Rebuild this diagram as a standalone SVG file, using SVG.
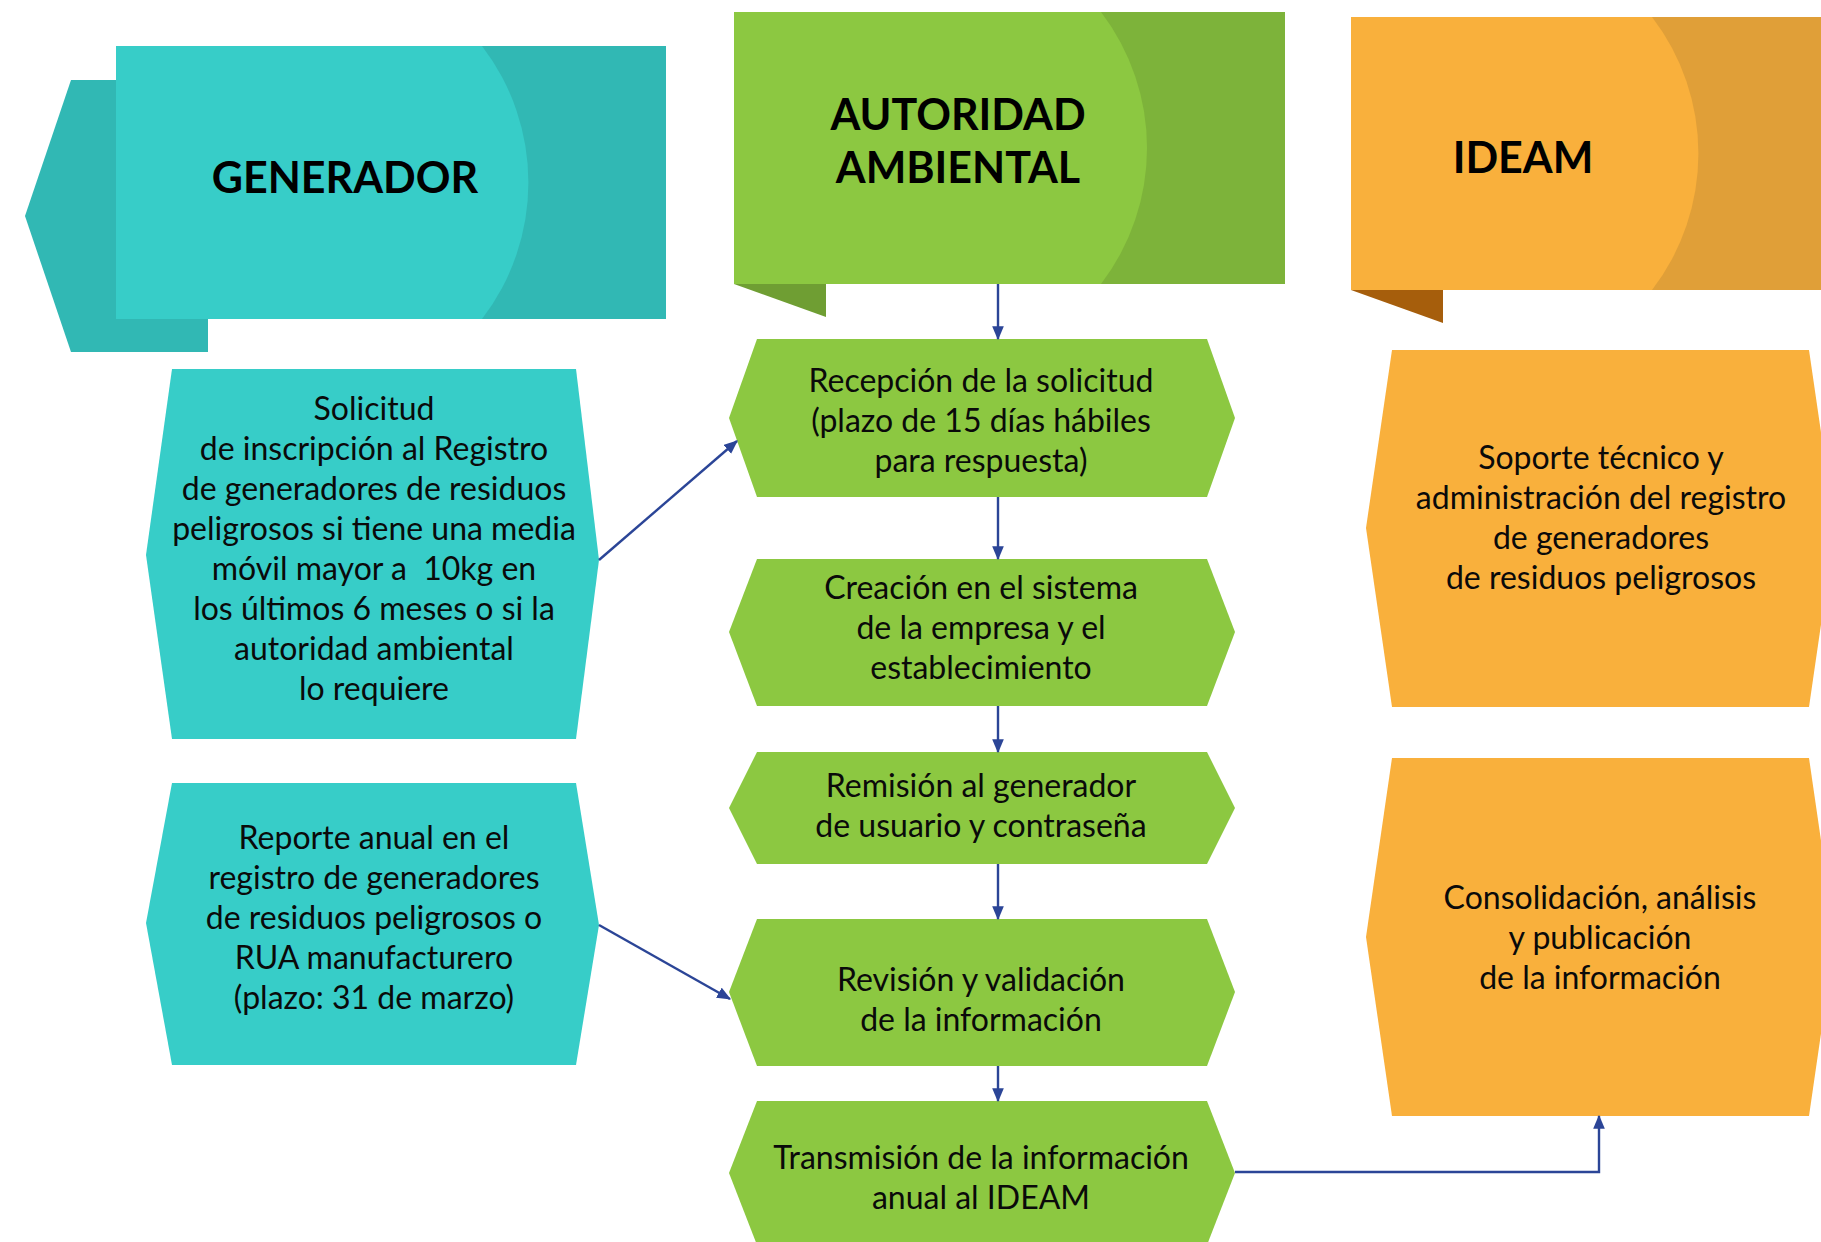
<svg xmlns="http://www.w3.org/2000/svg" width="1821" height="1242" viewBox="0 0 1821 1242">
<defs>
<style>
.hdr{font-family:Lato,"Liberation Sans",sans-serif;font-weight:bold;font-size:43px;fill:#000;text-anchor:middle}
.t{font-family:Lato,"Liberation Sans",sans-serif;font-size:32px;fill:#0a0a0a;text-anchor:middle;white-space:pre}
.tealL{fill:#37CDC8}
.tealD{fill:#31B8B4}
.greenL{fill:#8CC841}
.greenD{fill:#7DB33A}
.greenF{fill:#6F9E33}
.orL{fill:#F9B03C}
.orD{fill:#E09F38}
.orF{fill:#A65E0C}
.conn{stroke:#2B4597;stroke-width:2.4;fill:none}
</style>
<marker id="ah" viewBox="0 0 12 10" refX="11" refY="5" markerWidth="14" markerHeight="12" markerUnits="userSpaceOnUse" orient="auto">
<path d="M0,0 L12,5 L0,10 Z" fill="#2B4597"/>
</marker>
</defs>
<rect width="1821" height="1242" fill="#fff"/>

<g id="hdr-generador">
<polygon class="tealD" points="25,216 71,80 208,80 208,352 71,352"/>
<rect class="tealD" x="116" y="46" width="550" height="273"/>
<path class="tealL" d="M116,46 H482 A224,224 0 0 1 482,319 H116 Z"/>
<text class="hdr" x="345" y="193">GENERADOR</text>
</g>

<g id="hdr-autoridad">
<polygon class="greenF" points="734,284 826,284 826,317"/>
<rect class="greenD" x="734" y="12" width="551" height="272"/>
<path class="greenL" d="M734,12 H1101 A224,224 0 0 1 1101,284 H734 Z"/>
<text class="hdr" x="958" y="130">AUTORIDAD</text>
<text class="hdr" x="958" y="183">AMBIENTAL</text>
</g>

<g id="hdr-ideam">
<polygon class="orF" points="1351,290 1443,290 1443,323"/>
<rect class="orD" x="1351" y="17" width="470" height="273"/>
<path class="orL" d="M1351,17 H1652 A224,224 0 0 1 1652,290 H1351 Z"/>
<text class="hdr" x="1523" y="173">IDEAM</text>
</g>

<g id="gen-solicitud">
<polygon class="tealL" points="172,369 576,369 599,560 576,739 172,739 146,555"/>
<text class="t" x="374" y="420">Solicitud</text>
<text class="t" x="374" y="460">de inscripción al Registro</text>
<text class="t" x="374" y="500">de generadores de residuos</text>
<text class="t" x="374" y="540">peligrosos si tiene una media</text>
<text class="t" x="374" y="580" xml:space="preserve">móvil mayor a  10kg en</text>
<text class="t" x="374" y="620">los últimos 6 meses o si la</text>
<text class="t" x="374" y="660">autoridad ambiental</text>
<text class="t" x="374" y="700">lo requiere</text>
</g>

<g id="gen-reporte">
<polygon class="tealL" points="172,783 576,783 599,925 576,1065 172,1065 146,923"/>
<text class="t" x="374" y="849">Reporte anual en el</text>
<text class="t" x="374" y="889">registro de generadores</text>
<text class="t" x="374" y="929">de residuos peligrosos o</text>
<text class="t" x="374" y="969">RUA manufacturero</text>
<text class="t" x="374" y="1009">(plazo: 31 de marzo)</text>
</g>

<g id="aut-recepcion">
<polygon class="greenL" points="757,339 1207,339 1235,418 1207,497 757,497 729,418"/>
<text class="t" x="981" y="392">Recepción de la solicitud</text>
<text class="t" x="981" y="432">(plazo de 15 días hábiles</text>
<text class="t" x="981" y="472">para respuesta)</text>
</g>

<g id="aut-creacion">
<polygon class="greenL" points="757,559 1207,559 1235,632 1207,706 757,706 729,632"/>
<text class="t" x="981" y="599">Creación en el sistema</text>
<text class="t" x="981" y="639">de la empresa y el</text>
<text class="t" x="981" y="679">establecimiento</text>
</g>

<g id="aut-remision">
<polygon class="greenL" points="757,752 1207,752 1235,808 1207,864 757,864 729,808"/>
<text class="t" x="981" y="797">Remisión al generador</text>
<text class="t" x="981" y="837">de usuario y contraseña</text>
</g>

<g id="aut-revision">
<polygon class="greenL" points="757,919 1207,919 1235,992 1207,1066 757,1066 729,992"/>
<text class="t" x="981" y="991">Revisión y validación</text>
<text class="t" x="981" y="1031">de la información</text>
</g>

<g id="aut-transmision">
<polygon class="greenL" points="757,1101 1207,1101 1235,1173 1207,1245 757,1245 729,1173"/>
<text class="t" x="981" y="1169">Transmisión de la información</text>
<text class="t" x="981" y="1209">anual al IDEAM</text>
</g>

<g id="ideam-soporte">
<polygon class="orL" points="1392,350 1809,350 1835,528 1809,707 1392,707 1366,528"/>
<text class="t" x="1601" y="469">Soporte técnico y</text>
<text class="t" x="1601" y="509">administración del registro</text>
<text class="t" x="1601" y="549">de generadores</text>
<text class="t" x="1601" y="589">de residuos peligrosos</text>
</g>

<g id="ideam-consolidacion">
<polygon class="orL" points="1392,758 1809,758 1835,937 1809,1116 1392,1116 1366,937"/>
<text class="t" x="1600" y="909">Consolidación, análisis</text>
<text class="t" x="1600" y="949">y publicación</text>
<text class="t" x="1600" y="989">de la información</text>
</g>

<g id="connectors">
<line class="conn" x1="998" y1="284" x2="998" y2="339" marker-end="url(#ah)"/>
<line class="conn" x1="998" y1="497" x2="998" y2="559" marker-end="url(#ah)"/>
<line class="conn" x1="998" y1="706" x2="998" y2="752" marker-end="url(#ah)"/>
<line class="conn" x1="998" y1="864" x2="998" y2="919" marker-end="url(#ah)"/>
<line class="conn" x1="998" y1="1066" x2="998" y2="1101" marker-end="url(#ah)"/>
<line class="conn" x1="599" y1="560" x2="737" y2="441" marker-end="url(#ah)"/>
<line class="conn" x1="599" y1="925" x2="730" y2="999" marker-end="url(#ah)"/>
<polyline class="conn" points="1235,1172 1599,1172 1599,1116" marker-end="url(#ah)"/>
</g>
</svg>
